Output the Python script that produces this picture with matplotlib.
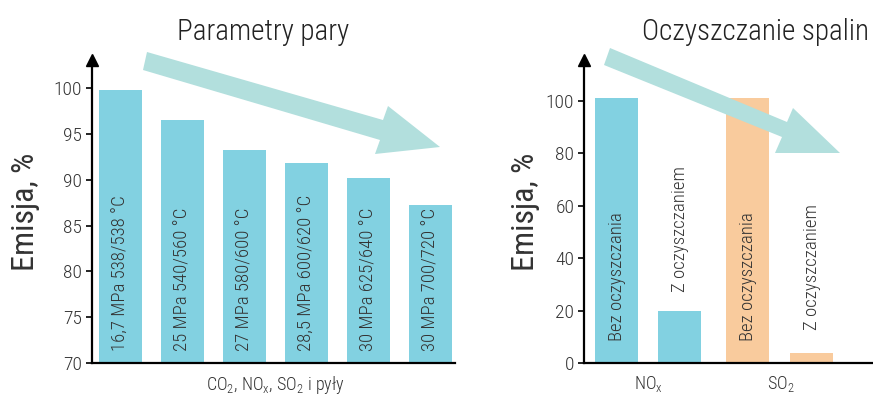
import matplotlib
matplotlib.use("Agg")
import matplotlib.pyplot as plt
from matplotlib.patches import Polygon

plt.rcParams['font.family'] = ['Roboto Condensed', 'Roboto', 'DejaVu Sans']
plt.rcParams['font.weight'] = 'light'
plt.rcParams['mathtext.default'] = 'regular'

# Steam parameters panel
steam_labels = ["16,7 MPa 538/538 °C", "25 MPa 540/560 °C", "27 MPa 580/600 °C",
                "28,5 MPa 600/620 °C", "30 MPa 625/640 °C", "30 MPa 700/720 °C"]
steam_values = [99.8, 96.6, 93.3, 91.8, 90.2, 87.3]
steam_ticks = [70, 75, 80, 85, 90, 95, 100]

# Flue-gas cleaning panel
clean_labels = ["Bez oczyszczania", "Z oczyszczaniem", "Bez oczyszczania", "Z oczyszczaniem"]
clean_values = [101, 20, 101, 4]
clean_groups = ["NO$_x$", "SO$_2$"]
clean_ticks = [0, 20, 40, 60, 80, 100]

BLUE = "#82d1e1"
ORANGE = "#f9cb9d"
ARROW = "#b2dfdd"
TXT = "#333333"

W, H = 873, 399
fig = plt.figure(figsize=(W / 100, H / 100), dpi=100)


def px(x0, y0, x1, y1):
    return [x0 / W, 1 - y1 / H, (x1 - x0) / W, (y1 - y0) / H]


def style_axis(ax):
    for s in ("top", "right"):
        ax.spines[s].set_visible(False)
    for s in ("left", "bottom"):
        ax.spines[s].set_linewidth(1.6)
        ax.spines[s].set_color("black")
    ax.tick_params(axis="y", length=4, width=1.2, labelsize=14, labelcolor=TXT, pad=3)
    ax.tick_params(axis="x", length=0, labelsize=13, labelcolor=TXT, pad=8)
    # arrow head on top of the y axis
    ax.plot(0, 1, marker="^", markersize=8, color="black", transform=ax.transAxes,
            clip_on=False)


# ---- left panel
ax1 = fig.add_axes(px(92, 60, 455, 363))
x1 = list(range(len(steam_values)))
ax1.bar(x1, [v - 70 for v in steam_values], bottom=70, width=0.69, color=BLUE)
ax1.set_xlim(-0.46, 5.40)
ax1.set_ylim(70, 103.1)
ax1.set_yticks(steam_ticks)
ax1.set_xticks([2.5])
ax1.set_xticklabels([r"CO$_2$, NO$_x$, SO$_2$ i pyły"])
style_axis(ax1)
for xi, lab in zip(x1, steam_labels):
    ax1.text(xi, 71.3, lab, rotation=90, ha="center", va="bottom", fontsize=13.5,
             color=TXT)
ax1.set_ylabel("Emisja, %", fontsize=23, color=TXT, labelpad=10)

# ---- right panel
ax2 = fig.add_axes(px(584, 60, 873, 363))
x2 = [0, 1, 2.08, 3.1]
colors2 = [BLUE, BLUE, ORANGE, ORANGE]
ax2.bar(x2, clean_values, width=0.68, color=colors2)
ax2.set_xlim(-0.516, 4.07)
ax2.set_ylim(0, 115.6)
ax2.set_yticks(clean_ticks)
ax2.set_xticks([0.5, 2.6])
ax2.set_xticklabels(clean_groups)
style_axis(ax2)
label_base = [8.5, 27, 8.5, 12.5]
for xi, lab, yb in zip(x2, clean_labels, label_base):
    ax2.text(xi, yb, lab, rotation=90, ha="center", va="bottom", fontsize=13.5,
             color=TXT)
ax2.set_ylabel("Emisja, %", fontsize=23, color=TXT, labelpad=4)

# ---- titles
fig.text(263 / W, 1 - 40 / H, "Parametry pary", ha="center", va="baseline",
         fontsize=21, color="#222222")
fig.text(755 / W, 1 - 40 / H, "Oczyszczanie spalin", ha="center", va="baseline",
         fontsize=21, color="#222222")

# ---- trend arrows in pixel space
ov = fig.add_axes([0, 0, 1, 1])
ov.set_xlim(0, W)
ov.set_ylim(H, 0)
ov.axis("off")
ov.patch.set_alpha(0)
left_arrow = [(147, 52), (383, 120), (388, 106), (440, 147), (375, 154), (380, 140), (143, 70)]
right_arrow = [(610, 48), (787, 122), (793, 108), (840, 153), (775, 153), (782, 137), (604, 65)]
for pts in (left_arrow, right_arrow):
    ov.add_patch(Polygon(pts, closed=True, facecolor=ARROW, edgecolor="none"))

fig.savefig("out.png", dpi=100)
